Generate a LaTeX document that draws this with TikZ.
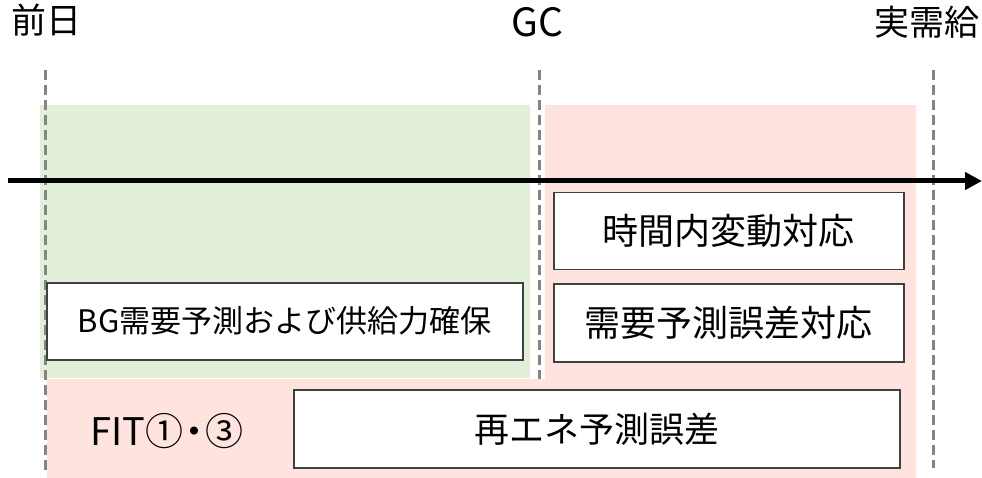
\documentclass[tikz,border=0pt]{standalone}
\usepackage{fontspec}
\setmainfont{Noto Sans CJK JP}
\usetikzlibrary{arrows.meta}
\definecolor{bandgreen}{HTML}{E2F0D9}
\definecolor{bandpink}{HTML}{FFE3DE}
\definecolor{dashgray}{HTML}{858585}
\definecolor{boxgray}{HTML}{404040}
\begin{document}
\begin{tikzpicture}[x=1pt,y=-1pt,
  taskbox/.style={draw=boxgray, line width=1.5pt, fill=white, inner sep=0pt, anchor=north west},
  marker/.style={draw=dashgray, line width=3pt, dash pattern=on 10pt off 5pt},
  lbl/.style={inner sep=0pt, text height=0.88em, text depth=0.12em, font=\fontsize{35}{40}\selectfont},
  boxtext/.style={font=\fontsize{#1}{#1}\selectfont},
  timeline/.style={line width=5pt, -{Triangle[length=17pt,width=17pt]}}
]
\useasboundingbox (0,0) rectangle (982,478);
% background bands
\fill[bandgreen] (40,105) rectangle (530,378);
\fill[bandpink] (545,105) rectangle (916,478);
% time markers
\coordinate (d0t) at (45,70);  \coordinate (d0b) at (45,470);
\coordinate (gct) at (539,70); \coordinate (gcb) at (539,470);
\coordinate (rt)  at (933,70); \coordinate (rb)  at (933,468);
\draw[marker] (d0t) -- (d0b);
\draw[marker] (gct) -- (gcb);
\draw[marker] (rt) -- (rb);
\fill[bandpink] (47,379) rectangle (552,478);
% labels
\node[lbl] (lzen) at (46,30) {前日};
\node[lbl, font=\fontsize{39}{44}\selectfont] (lgc) at (537,33) {GC};
\node[lbl] (ljitsu) at (927,32) {実需給};
% timeline arrow
\coordinate (tl0) at (8,181);
\coordinate (tl1) at (982,181);
\draw[timeline] (tl0) -- (tl1);
% task boxes
\node[taskbox, minimum width=350pt, minimum height=77pt, boxtext=36] (jikan) at (553,192) {時間内変動対応};
\node[taskbox, minimum width=350pt, minimum height=78pt, boxtext=36] (juyo) at (553,283) {需要予測誤差対応};
\node[taskbox, minimum width=476pt, minimum height=77pt, boxtext=31] (bg) at (46,282) {BG需要予測および供給力確保};
\node[taskbox, minimum width=606pt, minimum height=78pt, boxtext=35] (saie) at (293,389) {再エネ予測誤差};
\node[inner sep=0pt, boxtext=38] (fit) at (167,431) {FIT①\hspace{-0.2em}・\hspace{-0.2em}③};
\end{tikzpicture}
\end{document}
